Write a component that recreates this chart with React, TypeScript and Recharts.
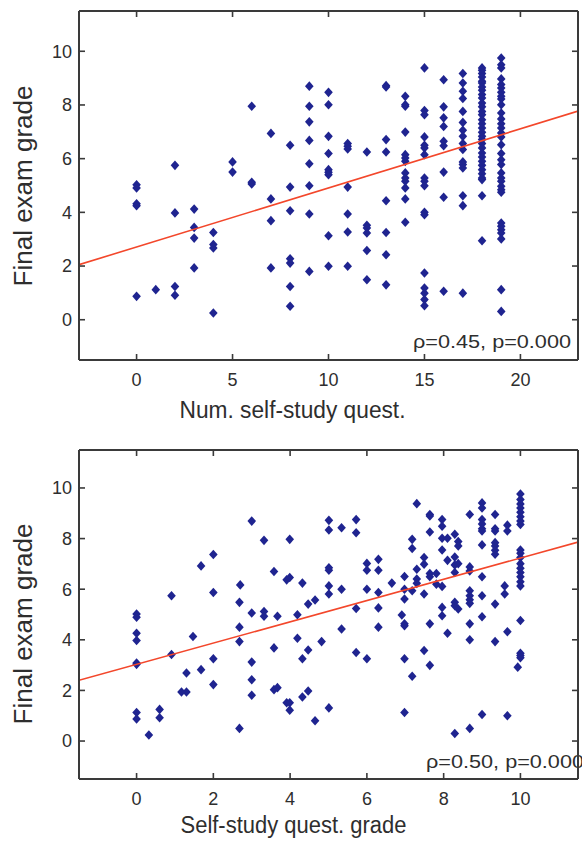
import React from "react";
import { ScatterChart, Scatter, XAxis, YAxis } from "recharts";

const FONT = '"Liberation Sans", Arial, Helvetica, sans-serif';
const DOT = "#1f2490";
const FIT = "#f3472b";
const FRAME = "#3a3a3a";
const TEXT = "#2e2e2e";

// top panel: final exam grade per number of self-study questions (index = number answered)
const numQuestGrades: number[][] = [
  [5.03, 4.91, 4.32, 4.25, 0.87],
  [1.12],
  [5.75, 3.98, 1.24, 0.91],
  [4.12, 3.44, 3.04, 1.93],
  [3.25, 2.8, 2.67, 0.25],
  [5.88, 5.5],
  [7.95, 5.12, 5.06],
  [6.94, 4.5, 3.69, 1.93],
  [6.5, 4.94, 4.06, 2.27, 2.11, 1.24, 0.5],
  [8.7, 7.95, 7.37, 6.68, 5.81, 4.99, 3.94, 1.8],
  [8.47, 8.01, 6.83, 6.19, 5.59, 5.49, 5.4, 3.13, 1.99],
  [6.56, 6.46, 6.36, 4.94, 3.94, 3.27, 1.99],
  [6.25, 3.52, 3.42, 3.23, 2.58, 1.49],
  [8.72, 8.67, 6.71, 6.25, 4.43, 3.25, 2.42, 1.3],
  [8.32, 8.01, 7.95, 6.99, 6.15, 6.02, 5.9, 5.47, 5.28, 5.16, 4.91, 4.5, 3.63],
  [9.38, 7.79, 7.64, 6.81, 6.5, 6.4, 6.15, 5.28, 5.16, 4.99, 4.0, 3.91, 1.74, 1.18, 0.99, 0.75, 0.52],
  [8.94, 7.93, 7.52, 7.2, 6.65, 6.48, 5.5, 4.56, 1.06],
  [9.17, 8.82, 8.51, 8.24, 7.76, 7.35, 7.06, 6.83, 6.56, 6.34, 5.88, 5.78, 5.65, 4.62, 4.25, 0.99],
  [
    9.38, 9.29, 9.17, 9.04, 8.88, 8.82, 8.67, 8.55, 8.39, 8.26, 8.07, 7.93, 7.76, 7.64, 7.45, 7.3,
    7.14, 6.98, 6.83, 6.71, 6.56, 6.4, 6.21, 6.06, 5.9, 5.75, 5.59, 5.44, 5.28, 5.22, 4.62, 2.94,
  ],
  [
    9.75, 9.5, 9.38, 8.97, 8.76, 8.63, 8.47, 8.32, 8.22, 8.01, 7.7, 7.48, 7.3, 7.14, 6.96, 6.81,
    6.52, 6.19, 5.96, 5.78, 5.47, 5.28, 5.16, 4.97, 4.84, 4.75, 3.6, 3.48, 3.35, 3.23, 3.01, 1.12, 0.31,
  ],
];
const numQuestTicks = [0, 5, 10, 15, 20];
const numQuestDomain = [-3, 23];
const numQuestFit = { intercept: 2.71, slope: 0.22 };

// bottom panel: [self-study quest. grade, final exam grade]
const questGradePoints: [number, number][] = [
  [0, 5.02], [0, 4.89], [0, 4.26], [0, 3.97], [0, 3.08], [0, 3.03], [0, 1.13], [0, 0.87],
  [0.32, 0.24], [0.6, 0.92], [0.6, 1.25], [0.91, 5.74], [0.91, 3.42],
  [1.17, 1.94], [1.3, 1.94], [1.3, 2.69], [1.47, 4.13], [1.68, 6.92], [1.68, 2.82],
  [2.0, 7.37], [2.0, 5.87], [2.0, 3.25], [2.0, 2.23],
  [2.68, 5.48], [2.68, 4.5], [2.68, 3.93], [2.68, 0.5], [2.7, 6.17],
  [3.0, 8.69], [3.0, 5.06], [3.0, 3.12], [3.0, 2.42], [3.0, 1.81],
  [3.32, 7.93], [3.32, 5.12], [3.32, 4.93],
  [3.58, 6.7], [3.58, 3.68], [3.58, 2.03], [3.67, 4.93], [3.67, 2.11],
  [3.91, 6.37], [3.91, 1.51], [3.99, 7.97], [3.99, 6.46], [3.99, 1.51], [3.99, 1.22],
  [4.19, 4.99], [4.19, 4.06], [4.32, 6.24], [4.32, 3.25], [4.32, 1.74],
  [4.47, 3.6], [4.47, 5.41], [4.47, 1.98], [4.65, 5.57], [4.65, 0.8], [4.82, 3.93],
  [5.01, 8.72], [5.01, 8.34], [5.01, 6.85], [5.01, 6.75], [5.01, 6.13], [5.01, 5.81], [5.01, 1.31],
  [5.34, 8.43], [5.34, 6.0], [5.34, 4.43],
  [5.72, 8.75], [5.72, 8.23], [5.72, 5.24], [5.72, 3.5],
  [6.0, 7.02], [6.0, 6.75], [6.0, 6.0], [6.0, 3.25],
  [6.3, 7.18], [6.3, 6.75], [6.3, 5.87], [6.3, 5.26], [6.3, 4.5],
  [6.65, 6.24], [6.91, 4.98],
  [6.98, 6.5], [6.98, 6.0], [6.98, 5.61], [6.98, 4.63], [6.98, 4.56], [6.98, 3.25], [6.98, 1.13],
  [7.18, 7.97], [7.18, 7.61], [7.18, 5.94], [7.18, 2.56],
  [7.3, 9.38], [7.3, 6.79], [7.3, 6.4], [7.3, 6.23],
  [7.49, 7.25], [7.49, 6.99], [7.49, 5.81], [7.49, 3.58],
  [7.64, 8.95], [7.64, 8.89], [7.64, 8.26], [7.64, 6.62], [7.64, 6.49], [7.64, 4.63], [7.64, 2.99],
  [7.81, 6.62], [7.81, 6.2],
  [7.96, 8.75], [7.96, 8.49], [7.96, 8.01], [7.96, 7.55], [7.96, 6.11], [7.96, 5.28], [7.96, 4.95],
  [8.1, 8.01], [8.1, 7.14], [8.1, 4.26],
  [8.29, 8.17], [8.29, 7.27], [8.29, 6.96], [8.29, 6.66], [8.29, 5.48], [8.29, 5.35], [8.29, 0.3],
  [8.38, 7.88], [8.38, 7.71], [8.38, 7.01], [8.38, 5.22],
  [8.68, 8.95], [8.68, 6.88], [8.68, 6.72], [8.68, 5.94], [8.68, 5.74], [8.68, 5.58], [8.68, 5.44],
  [8.68, 4.63], [8.68, 4.0], [8.68, 0.5],
  [9.0, 9.41], [9.0, 9.21], [9.0, 8.75], [9.0, 8.58], [9.0, 8.39], [9.0, 8.3], [9.0, 7.75],
  [9.0, 6.49], [9.0, 5.74], [9.0, 4.91], [9.0, 1.05],
  [9.34, 8.95], [9.34, 8.39], [9.34, 8.3], [9.34, 7.84], [9.34, 7.71], [9.34, 7.54], [9.34, 7.38],
  [9.34, 5.41], [9.34, 3.93],
  [9.59, 6.13], [9.59, 5.81], [9.66, 8.53], [9.66, 8.3], [9.66, 4.32], [9.66, 1.0], [9.93, 2.92],
  [10, 9.76], [10, 9.54], [10, 9.37], [10, 9.21], [10, 9.04], [10, 8.86], [10, 8.69], [10, 8.56],
  [10, 7.55], [10, 7.42], [10, 7.25], [10, 7.01], [10, 6.83], [10, 6.66], [10, 6.49], [10, 6.29],
  [10, 6.13], [10, 4.76], [10, 3.47], [10, 3.38], [10, 3.29],
];
const questGradeTicks = [0, 2, 4, 6, 8, 10];
const questGradeDomain = [-1.5, 11.5];
const questGradeFit = { intercept: 3.03, slope: 0.42 };

const examTicks = [0, 2, 4, 6, 8, 10];
const examDomain = [-1.5, 11.5];

const CHART_W = 582;
const AXIS_W = 79;
const RIGHT = 4;
const TICK_PX = 6;
const PLOT_L = AXIS_W;
const PLOT_R = CHART_W - RIGHT;

const Diamond = (props: any) => {
  const { cx, cy } = props;
  if (cx == null || cy == null) return <g />;
  return (
    <path
      d={`M${cx} ${cy - 4.8}L${cx + 4.3} ${cy}L${cx} ${cy + 4.8}L${cx - 4.3} ${cy}Z`}
      fill={DOT}
    />
  );
};

const fitLine = (domain: number[], fit: { intercept: number; slope: number }) =>
  domain.map((x) => ({ x, y: fit.intercept + fit.slope * x }));

type PanelProps = {
  points: { x: number; y: number }[];
  fit: { intercept: number; slope: number };
  xDomain: number[];
  xTicks: number[];
  xTitle: string;
  stat: string;
  height: number;
  top: number;
  xAxisHeight: number;
  xTitleX: number;
  xTitleY: number;
  yTitleY: number;
  statX: number;
  statY: number;
};

function Panel(p: PanelProps) {
  const plotT = p.top;
  const plotB = p.height - p.xAxisHeight;
  const tickStroke = { stroke: FRAME, strokeWidth: 1.6 };

  // x tick: inward marks on the bottom and top edges, label below
  const XTick = (t: any) => (
    <g>
      <line x1={t.x} x2={t.x} y1={plotB} y2={plotB - TICK_PX} {...tickStroke} />
      <line x1={t.x} x2={t.x} y1={plotT} y2={plotT + TICK_PX} {...tickStroke} />
      <text x={t.x} y={t.y} dy="0.71em" textAnchor="middle" fontSize={18} fontFamily={FONT} fill={TEXT}>
        {t.payload.value}
      </text>
    </g>
  );
  // y tick: inward marks on the left and right edges, label to the left
  const YTick = (t: any) => (
    <g>
      <line x1={PLOT_L} x2={PLOT_L + TICK_PX} y1={t.y} y2={t.y} {...tickStroke} />
      <line x1={PLOT_R} x2={PLOT_R - TICK_PX} y1={t.y} y2={t.y} {...tickStroke} />
      <text x={t.x} y={t.y} dy="0.355em" textAnchor="end" fontSize={18} fontFamily={FONT} fill={TEXT}>
        {t.payload.value}
      </text>
    </g>
  );

  const xLabel = () => (
    <g fontFamily={FONT} fill={TEXT}>
      <text x={p.xTitleX} y={p.xTitleY} textAnchor="middle" fontSize={23} textLength={226} lengthAdjust="spacingAndGlyphs">
        {p.xTitle}
      </text>
      <text x={p.statX} y={p.statY} fontSize={19} textLength={158} lengthAdjust="spacingAndGlyphs">
        {p.stat}
      </text>
    </g>
  );
  const yLabel = () => (
    <text
      x={32}
      y={p.yTitleY}
      transform={`rotate(-90, 32, ${p.yTitleY})`}
      textAnchor="middle"
      fontSize={26}
      fontFamily={FONT}
      fill={TEXT}
    >
      Final exam grade
    </text>
  );

  return (
    <div style={{ position: "relative", width: CHART_W, height: p.height }}>
      <ScatterChart
        width={CHART_W}
        height={p.height}
        margin={{ top: p.top, right: RIGHT, bottom: 0, left: 0 }}
      >
        <XAxis
          dataKey="x"
          type="number"
          domain={p.xDomain}
          allowDataOverflow
          ticks={p.xTicks}
          height={p.xAxisHeight}
          tickSize={0}
          tickMargin={13}
          tick={XTick}
          axisLine={false}
          tickLine={false}
          label={xLabel}
        />
        <YAxis
          dataKey="y"
          type="number"
          domain={examDomain}
          allowDataOverflow
          ticks={examTicks}
          width={AXIS_W}
          tickSize={0}
          tickMargin={7}
          tick={YTick}
          axisLine={false}
          tickLine={false}
          label={yLabel}
        />
        <Scatter data={p.points} shape={Diamond} fill={DOT} isAnimationActive={false} />
        <Scatter
          data={fitLine(p.xDomain, p.fit)}
          fill={FIT}
          line={{ stroke: FIT, strokeWidth: 1.6 }}
          shape={() => <g />}
          isAnimationActive={false}
        />
      </ScatterChart>
      <svg
        width={CHART_W}
        height={p.height}
        style={{ position: "absolute", left: 0, top: 0, pointerEvents: "none" }}
      >
        <line x1={PLOT_L} x2={PLOT_R} y1={plotT} y2={plotT} stroke={FRAME} strokeWidth={2} />
        <line x1={PLOT_R} x2={PLOT_R} y1={plotT} y2={plotB} stroke={FRAME} strokeWidth={2} />
        <line x1={PLOT_L} x2={PLOT_R} y1={plotB} y2={plotB} stroke={FRAME} strokeWidth={2} />
        <line x1={PLOT_L} x2={PLOT_L} y1={plotT} y2={plotB} stroke={FRAME} strokeWidth={2} />
      </svg>
    </div>
  );
}

export default function App() {
  const topPoints = numQuestGrades.flatMap((grades, n) => grades.map((y) => ({ x: n, y })));
  const bottomPoints = questGradePoints.map(([x, y]) => ({ x, y }));

  return (
    <div style={{ position: "absolute", left: 0, top: 0, width: 582, height: 843, background: "#fff" }}>
      <Panel
        points={topPoints}
        fit={numQuestFit}
        xDomain={numQuestDomain}
        xTicks={numQuestTicks}
        xTitle="Num. self-study quest."
        stat="ρ=0.45, p=0.000"
        height={440}
        top={11}
        xAxisHeight={80}
        xTitleX={292.5}
        xTitleY={418}
        yTitleY={186}
        statX={413}
        statY={348}
      />
      <Panel
        points={bottomPoints}
        fit={questGradeFit}
        xDomain={questGradeDomain}
        xTicks={questGradeTicks}
        xTitle="Self-study quest. grade"
        stat="ρ=0.50, p=0.000"
        height={403}
        top={10}
        xAxisHeight={64}
        xTitleX={293.5}
        xTitleY={393}
        yTitleY={184}
        statX={426}
        statY={328}
      />
    </div>
  );
}
